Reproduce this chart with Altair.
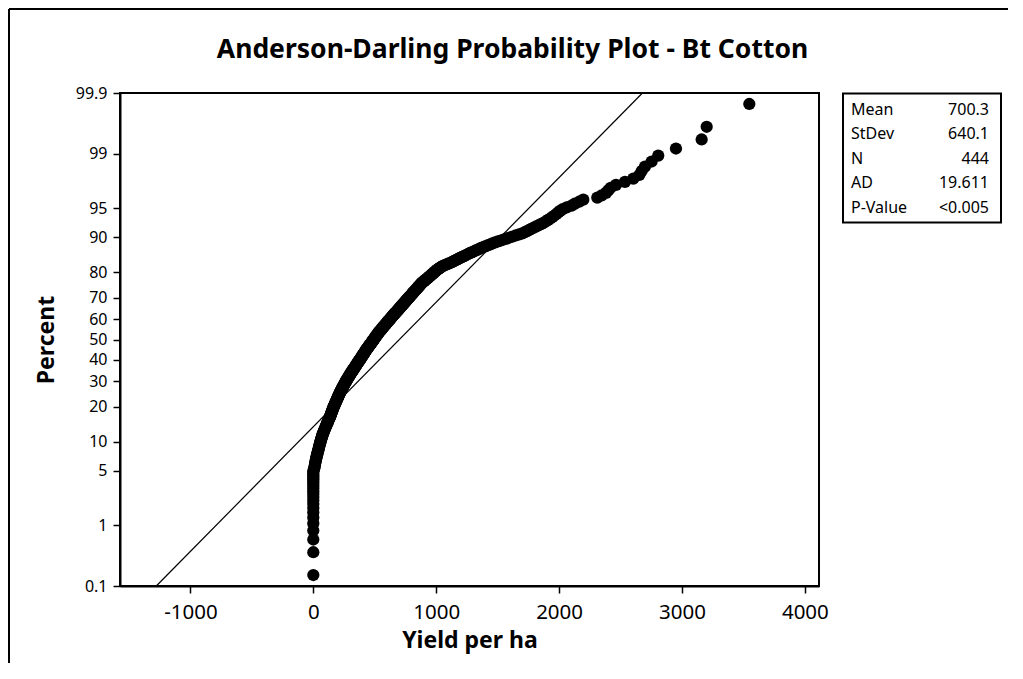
import altair as alt
import pandas as pd
from statistics import NormalDist

# ---------------- data ----------------
yields = [
    0, 0, 0, 0, 0, 0, 0, 0, 0, 0,
    0, 0, 0, 0, 0, 0, 0, 0, 0, 0,
    0, 0, 3, 8, 11, 13, 15, 17, 20, 22,
    25, 27, 30, 33, 35, 38, 41, 43, 45, 47,
    50, 52, 54, 57, 59, 61, 63, 66, 68, 71,
    73, 76, 78, 81, 84, 86, 89, 92, 95, 98,
    101, 104, 106, 109, 112, 114, 117, 120, 122, 125,
    128, 130, 133, 136, 138, 140, 142, 144, 146, 148,
    150, 152, 154, 156, 158, 160, 162, 164, 166, 169,
    171, 173, 175, 177, 179, 182, 184, 186, 188, 191,
    193, 195, 197, 199, 201, 203, 205, 207, 209, 212,
    214, 216, 218, 220, 222, 225, 227, 229, 232, 234,
    236, 239, 241, 243, 245, 248, 250, 252, 255, 257,
    259, 262, 264, 267, 269, 272, 274, 277, 279, 282,
    284, 287, 289, 292, 294, 297, 299, 302, 304, 307,
    309, 312, 315, 317, 320, 322, 325, 327, 330, 333,
    335, 338, 340, 343, 345, 348, 350, 353, 355, 358,
    361, 363, 366, 368, 371, 373, 376, 379, 381, 384,
    386, 389, 391, 393, 396, 398, 401, 403, 405, 408,
    410, 413, 415, 417, 420, 422, 425, 427, 430, 432,
    435, 437, 440, 443, 445, 448, 451, 453, 456, 459,
    461, 464, 467, 469, 472, 475, 477, 480, 482, 485,
    488, 490, 493, 495, 498, 501, 503, 506, 508, 511,
    514, 516, 519, 522, 524, 527, 529, 532, 535, 538,
    541, 544, 547, 551, 554, 557, 560, 563, 566, 569,
    572, 575, 578, 581, 585, 588, 591, 594, 597, 601,
    604, 607, 610, 613, 617, 620, 623, 626, 629, 632,
    636, 639, 642, 646, 649, 652, 656, 659, 663, 666,
    670, 673, 676, 680, 683, 687, 690, 694, 697, 700,
    704, 708, 711, 715, 718, 722, 725, 729, 732, 736,
    740, 743, 747, 750, 754, 757, 761, 764, 768, 772,
    776, 779, 783, 787, 791, 794, 798, 802, 806, 809,
    813, 817, 821, 825, 829, 833, 837, 841, 845, 849,
    853, 857, 861, 865, 869, 873, 877, 881, 886, 892,
    898, 904, 909, 915, 921, 927, 933, 938, 944, 950,
    956, 962, 967, 973, 979, 985, 990, 996, 1002, 1009,
    1017, 1025, 1033, 1041, 1048, 1061, 1075, 1089, 1103, 1116,
    1128, 1139, 1151, 1163, 1175, 1187, 1199, 1212, 1225, 1238,
    1251, 1264, 1278, 1293, 1308, 1323, 1338, 1353, 1368, 1386,
    1404, 1422, 1440, 1458, 1479, 1502, 1525, 1548, 1571, 1596,
    1622, 1648, 1675, 1701, 1721, 1739, 1757, 1775, 1794, 1815,
    1836, 1856, 1876, 1894, 1911, 1929, 1946, 1962, 1978, 1993,
    2008, 2030, 2062, 2102, 2129, 2164, 2197, 2311, 2347, 2382,
    2400, 2420, 2463, 2536, 2604, 2653, 2672, 2699, 2753, 2807,
    2951, 3160, 3201, 3548,
]

stat_labels = ["Mean", "StDev", "N", "AD", "P-Value"]
stat_values = ["700.3", "640.1", "444", "19.611", "<0.005"]
fit_mean = 700.3
fit_sd = 640.1

pct_ticks = [0.1, 1, 5, 10, 20, 30, 40, 50, 60, 70, 80, 90, 95, 99, 99.9]
x_ticks = [-1000, 0, 1000, 2000, 3000, 4000]
x_domain = [-1573, 4115]
pct_range = [0.1, 99.9]

title_text = "Anderson-Darling Probability Plot - Bt Cotton"
x_title = "Yield per ha"
y_title = "Percent"

# ---------------- probability-paper transform ----------------
nd = NormalDist()
n = len(yields)
ys = sorted(yields)
zs = [nd.inv_cdf((i - 0.3) / (n + 0.4)) for i in range(1, n + 1)]
pts_df = pd.DataFrame({"yield": ys, "z": zs})

z_lo = nd.inv_cdf(pct_range[0] / 100)
z_hi = nd.inv_cdf(pct_range[1] / 100)
fit_df = pd.DataFrame({"z": [z_lo, z_hi]})
fit_df["yield"] = fit_mean + fit_sd * fit_df["z"]

z_ticks = [nd.inv_cdf(p / 100) for p in pct_ticks]
keys = ",".join(str(round(z * 1000)) for z in z_ticks)
labs = ",".join("'%s'" % format(p, "g") for p in pct_ticks)
label_expr = "[%s][indexof([%s], round(datum.value*1000))]" % (labs, keys)

W, H = 699, 493
PAD = {"left": 112, "top": 85, "right": 189, "bottom": 77}
FONT = "Noto Sans"

x_enc = alt.X(
    "yield:Q",
    title=x_title,
    scale=alt.Scale(domain=x_domain, nice=False, zero=False),
    axis=alt.Axis(
        values=x_ticks, labelExpr="toString(datum.value)",
        labelFontSize=20.5, labelBaseline="alphabetic",
        labelPadding=25, labelFlush=False, labelOverlap=False,
        titleFontSize=23, titleFontWeight="bold", titleBaseline="alphabetic",
        titleY=61,
    ),
)
y_enc = alt.Y(
    "z:Q",
    title=y_title,
    scale=alt.Scale(domain=[z_lo, z_hi], nice=False, zero=False),
    axis=alt.Axis(
        values=z_ticks, labelExpr=label_expr, labelFontSize=16,
        labelPadding=6, labelFlush=False, labelOverlap=False,
        titleFontSize=23, titleFontWeight="bold", titleBaseline="alphabetic",
        titleAngle=270, titleX=-67, titleY=H / 2, titleAlign="center",
    ),
)

fit_line = alt.Chart(fit_df).mark_line(color="black", strokeWidth=1.2).encode(
    x=x_enc, y=y_enc
)
points = alt.Chart(pts_df).mark_circle(size=150, opacity=1, color="black").encode(
    x=x_enc, y=y_enc
)

one = pd.DataFrame({"k": [0]})
border_v = alt.Chart(one).mark_rule(color="black", strokeWidth=2).encode(
    x=alt.value(-111), y=alt.value(-84), y2=alt.value(H + PAD["bottom"])
)
border_h = alt.Chart(one).mark_rule(color="black", strokeWidth=2).encode(
    x=alt.value(-111), x2=alt.value(W + PAD["right"]), y=alt.value(-84)
)
title_mark = alt.Chart(one).mark_text(
    text=title_text, font=FONT, fontSize=26.5, fontWeight="bold",
    align="center", baseline="alphabetic", color="black",
).encode(x=alt.value(392.5), y=alt.value(-35))

box = alt.Chart(one).mark_rect(fill="white", stroke="black", strokeWidth=2).encode(
    x=alt.value(723), x2=alt.value(881), y=alt.value(0.5), y2=alt.value(129.5)
)
box_labels = alt.Chart(one).mark_text(
    text=stat_labels, font=FONT, fontSize=16, lineHeight=24.4,
    align="left", baseline="alphabetic", color="black",
).encode(x=alt.value(731), y=alt.value(22))
box_values = alt.Chart(one).mark_text(
    text=stat_values, font=FONT, fontSize=16, lineHeight=24.4,
    align="right", baseline="alphabetic", color="black",
).encode(x=alt.value(869), y=alt.value(22))

chart = (
    alt.layer(border_v, border_h, title_mark, fit_line, points, box, box_labels, box_values)
    .properties(width=W, height=H, padding=PAD, autosize=alt.AutoSizeParams(type="none"),
                background="white")
    .configure_view(stroke="black", strokeWidth=2)
    .configure_axis(
        grid=False, domainColor="black", domainWidth=2, tickColor="black",
        tickWidth=1.5, tickSize=7, labelColor="black", titleColor="black",
        labelFont=FONT, titleFont=FONT,
    )
)

chart.save("out.html", embed_options={"renderer": "svg", "actions": False})
